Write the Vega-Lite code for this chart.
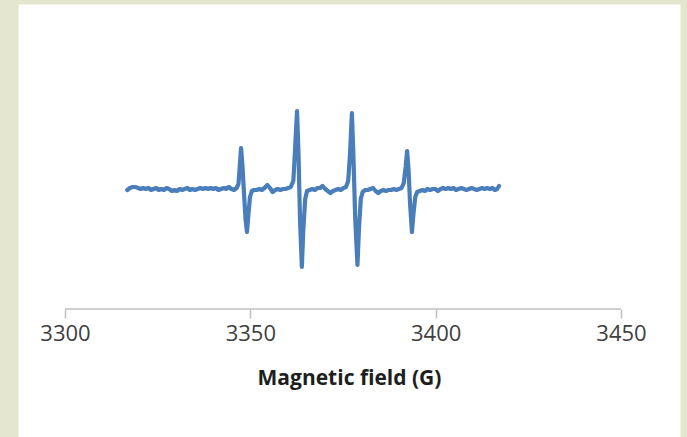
{
  "$schema": "https://vega.github.io/schema/vega-lite/v6.json",
  "autosize": "none",
  "width": 662,
  "height": 433,
  "padding": {"left": 18, "top": 4, "right": 7, "bottom": 0},
  "background": "#e4e6cf",
  "config": {"view": {"fill": "#ffffff", "stroke": "transparent"}},
  "data": {"values": [
      {"gauss": 3316.8, "intensity": -1}, {"gauss": 3317.5, "intensity": 1}, {"gauss": 3318.3, "intensity": 2}, {"gauss": 3319.0, "intensity": 2},
      {"gauss": 3319.7, "intensity": 1}, {"gauss": 3320.4, "intensity": 0}, {"gauss": 3321.1, "intensity": 1}, {"gauss": 3321.8, "intensity": 0},
      {"gauss": 3322.5, "intensity": 1}, {"gauss": 3323.2, "intensity": -1}, {"gauss": 3323.9, "intensity": 0}, {"gauss": 3324.6, "intensity": 1},
      {"gauss": 3325.3, "intensity": -1}, {"gauss": 3326.0, "intensity": 0}, {"gauss": 3326.7, "intensity": -1}, {"gauss": 3327.4, "intensity": 1},
      {"gauss": 3328.1, "intensity": 0}, {"gauss": 3328.8, "intensity": -2}, {"gauss": 3329.5, "intensity": -1}, {"gauss": 3330.2, "intensity": -2},
      {"gauss": 3330.9, "intensity": 0}, {"gauss": 3331.6, "intensity": -1}, {"gauss": 3332.3, "intensity": 0}, {"gauss": 3333.0, "intensity": 1},
      {"gauss": 3333.7, "intensity": -1}, {"gauss": 3334.4, "intensity": 0}, {"gauss": 3335.1, "intensity": -1}, {"gauss": 3335.8, "intensity": 0},
      {"gauss": 3336.5, "intensity": 1}, {"gauss": 3337.2, "intensity": 0}, {"gauss": 3337.9, "intensity": 1}, {"gauss": 3338.6, "intensity": 0},
      {"gauss": 3339.3, "intensity": 1}, {"gauss": 3340.0, "intensity": 0}, {"gauss": 3340.7, "intensity": 1}, {"gauss": 3341.4, "intensity": -1},
      {"gauss": 3342.1, "intensity": 0}, {"gauss": 3342.8, "intensity": 1}, {"gauss": 3343.5, "intensity": 0}, {"gauss": 3344.2, "intensity": 2},
      {"gauss": 3344.9, "intensity": 0}, {"gauss": 3345.6, "intensity": -1}, {"gauss": 3346.3, "intensity": 1}, {"gauss": 3346.8, "intensity": 5},
      {"gauss": 3347.1, "intensity": 20}, {"gauss": 3347.5, "intensity": 41}, {"gauss": 3347.9, "intensity": 22}, {"gauss": 3348.3, "intensity": -5},
      {"gauss": 3348.7, "intensity": -30}, {"gauss": 3349.1, "intensity": -43}, {"gauss": 3349.5, "intensity": -25}, {"gauss": 3349.9, "intensity": -8},
      {"gauss": 3350.4, "intensity": -2}, {"gauss": 3351.0, "intensity": -1}, {"gauss": 3351.7, "intensity": -1}, {"gauss": 3352.4, "intensity": 0},
      {"gauss": 3353.1, "intensity": -1}, {"gauss": 3353.8, "intensity": 1}, {"gauss": 3354.6, "intensity": 4}, {"gauss": 3355.3, "intensity": 1},
      {"gauss": 3356.0, "intensity": -3}, {"gauss": 3356.7, "intensity": -1}, {"gauss": 3357.4, "intensity": 0}, {"gauss": 3358.1, "intensity": -1},
      {"gauss": 3358.8, "intensity": 0}, {"gauss": 3359.5, "intensity": 0}, {"gauss": 3360.2, "intensity": 1}, {"gauss": 3360.9, "intensity": 2},
      {"gauss": 3361.6, "intensity": 8}, {"gauss": 3362.0, "intensity": 35}, {"gauss": 3362.6, "intensity": 78}, {"gauss": 3363.0, "intensity": 35},
      {"gauss": 3363.4, "intensity": -30}, {"gauss": 3363.9, "intensity": -78}, {"gauss": 3364.3, "intensity": -40}, {"gauss": 3364.8, "intensity": -10},
      {"gauss": 3365.3, "intensity": -2}, {"gauss": 3366.0, "intensity": -1}, {"gauss": 3366.7, "intensity": 0}, {"gauss": 3367.4, "intensity": -1},
      {"gauss": 3368.1, "intensity": 1}, {"gauss": 3368.8, "intensity": 1}, {"gauss": 3369.5, "intensity": 3}, {"gauss": 3370.2, "intensity": 0},
      {"gauss": 3370.9, "intensity": -2}, {"gauss": 3371.6, "intensity": -4}, {"gauss": 3372.3, "intensity": -2}, {"gauss": 3373.0, "intensity": -1},
      {"gauss": 3373.7, "intensity": 0}, {"gauss": 3374.4, "intensity": -1}, {"gauss": 3375.1, "intensity": 1}, {"gauss": 3375.8, "intensity": 2},
      {"gauss": 3376.4, "intensity": 8}, {"gauss": 3376.9, "intensity": 35}, {"gauss": 3377.4, "intensity": 76}, {"gauss": 3377.8, "intensity": 35},
      {"gauss": 3378.3, "intensity": -30}, {"gauss": 3378.9, "intensity": -76}, {"gauss": 3379.3, "intensity": -40}, {"gauss": 3379.8, "intensity": -10},
      {"gauss": 3380.3, "intensity": -3}, {"gauss": 3381.0, "intensity": -1}, {"gauss": 3381.7, "intensity": -1}, {"gauss": 3382.4, "intensity": 0},
      {"gauss": 3383.1, "intensity": 1}, {"gauss": 3383.8, "intensity": -2}, {"gauss": 3384.5, "intensity": -4}, {"gauss": 3385.2, "intensity": -2},
      {"gauss": 3385.9, "intensity": -1}, {"gauss": 3386.6, "intensity": -2}, {"gauss": 3387.3, "intensity": -1}, {"gauss": 3388.0, "intensity": -1},
      {"gauss": 3388.7, "intensity": 0}, {"gauss": 3389.4, "intensity": -1}, {"gauss": 3390.1, "intensity": 0}, {"gauss": 3390.8, "intensity": 1},
      {"gauss": 3391.4, "intensity": 6}, {"gauss": 3391.9, "intensity": 22}, {"gauss": 3392.3, "intensity": 38}, {"gauss": 3392.7, "intensity": 18},
      {"gauss": 3393.1, "intensity": -15}, {"gauss": 3393.6, "intensity": -43}, {"gauss": 3394.0, "intensity": -25}, {"gauss": 3394.5, "intensity": -8},
      {"gauss": 3395.0, "intensity": -3}, {"gauss": 3395.7, "intensity": -2}, {"gauss": 3396.4, "intensity": -1}, {"gauss": 3397.1, "intensity": -2},
      {"gauss": 3397.8, "intensity": 0}, {"gauss": 3398.5, "intensity": -1}, {"gauss": 3399.2, "intensity": 0}, {"gauss": 3399.9, "intensity": 0},
      {"gauss": 3400.6, "intensity": -2}, {"gauss": 3401.3, "intensity": 0}, {"gauss": 3402.0, "intensity": 1}, {"gauss": 3402.7, "intensity": 0},
      {"gauss": 3403.4, "intensity": 1}, {"gauss": 3404.1, "intensity": 0}, {"gauss": 3404.8, "intensity": 1}, {"gauss": 3405.5, "intensity": -1},
      {"gauss": 3406.2, "intensity": 0}, {"gauss": 3406.9, "intensity": 1}, {"gauss": 3407.6, "intensity": 0}, {"gauss": 3408.3, "intensity": -1},
      {"gauss": 3409.0, "intensity": 0}, {"gauss": 3409.7, "intensity": 1}, {"gauss": 3410.4, "intensity": 0}, {"gauss": 3411.1, "intensity": -1},
      {"gauss": 3411.8, "intensity": 0}, {"gauss": 3412.5, "intensity": 1}, {"gauss": 3413.2, "intensity": 0}, {"gauss": 3413.9, "intensity": 1},
      {"gauss": 3414.6, "intensity": 0}, {"gauss": 3415.3, "intensity": 1}, {"gauss": 3416.0, "intensity": -1}, {"gauss": 3416.6, "intensity": 0},
      {"gauss": 3417.1, "intensity": 3}
  ]},
  "layer": [
    {
      "data": {"values": [{"start": 3300, "end": 3450, "level": -120}]},
      "mark": {"type": "rule", "color": "#bfbfbf", "strokeWidth": 1.5},
      "encoding": {
        "x": {
          "field": "start", "type": "quantitative",
          "scale": {"domain": [3287.32, 3465.92], "nice": false, "zero": false},
          "axis": {
            "values": [3300, 3350, 3400, 3450], "format": "d",
            "offset": -128,
            "domain": false, "grid": false,
            "tickColor": "#bfbfbf", "tickSize": 9, "tickWidth": 1.5,
            "labelFont": "Open Sans", "labelFontSize": 22, "labelColor": "#404040", "labelPadding": 5,
            "title": "Magnetic field (G)",
            "titleFont": "Open Sans", "titleFontSize": 21, "titleFontWeight": "bold", "titleColor": "#1e1e1e", "titlePadding": 23
          }
        },
        "x2": {"field": "end"},
        "y": {"field": "level", "type": "quantitative", "scale": {"domain": [-248, 185], "nice": false, "zero": false}, "axis": null}
      }
    },
    {
      "mark": {"type": "line", "color": "#4a7ebb", "strokeWidth": 4.2, "strokeJoin": "round", "strokeCap": "round"},
      "encoding": {
        "x": {
          "field": "gauss", "type": "quantitative",
          "scale": {"domain": [3287.32, 3465.92], "nice": false, "zero": false},
          "axis": {
            "values": [3300, 3350, 3400, 3450], "format": "d",
            "offset": -128,
            "domain": false, "grid": false,
            "tickColor": "#bfbfbf", "tickSize": 9, "tickWidth": 1.5,
            "labelFont": "Open Sans", "labelFontSize": 22, "labelColor": "#404040", "labelPadding": 5,
            "title": "Magnetic field (G)",
            "titleFont": "Open Sans", "titleFontSize": 21, "titleFontWeight": "bold", "titleColor": "#1e1e1e", "titlePadding": 23
          }
        },
        "y": {
          "field": "intensity", "type": "quantitative",
          "scale": {"domain": [-248, 185], "nice": false, "zero": false},
          "axis": null
        }
      }
    }
  ]
}
